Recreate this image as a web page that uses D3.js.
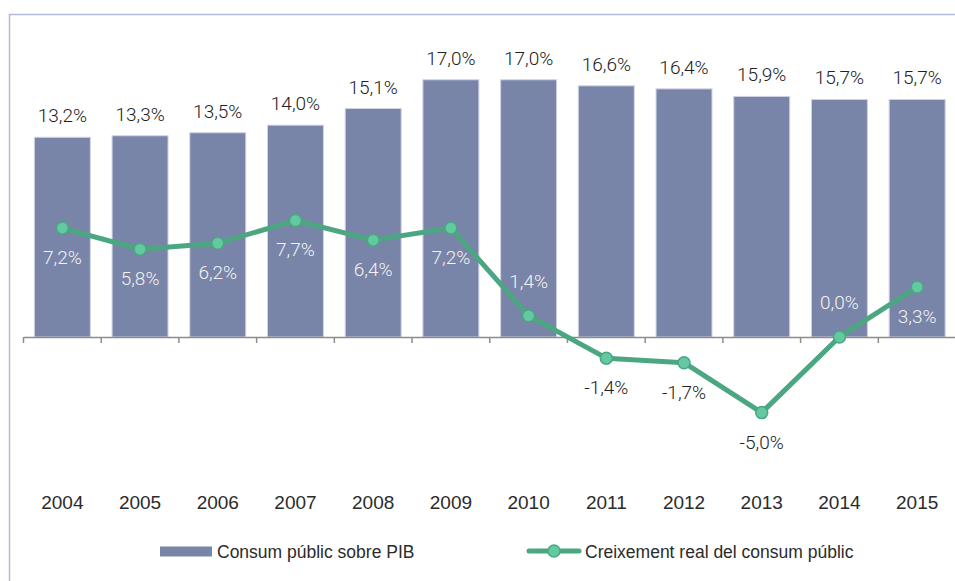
<!DOCTYPE html>
<html>
<head>
<meta charset="utf-8">
<script src="https://cdn.jsdelivr.net/npm/d3@7"></script>
<style>
	body { margin: 0; background: #fff; }
	svg { display: block; }
</style>
</head>
<body>
<div id="chart"></div>
<script>
// chart values
var years = ["2004", "2005", "2006", "2007", "2008", "2009", "2010", "2011", "2012", "2013", "2014", "2015"];
var consumPib = [13.2, 13.3, 13.5, 14.0, 15.1, 17.0, 17.0, 16.6, 16.4, 15.9, 15.7, 15.7];
var creixement = [7.2, 5.8, 6.2, 7.7, 6.4, 7.2, 1.4, -1.4, -1.7, -5.0, 0.0, 3.3];
var seriesNames = ["Consum públic sobre PIB", "Creixement real del consum públic"];

function fmt(v){
	return v.toFixed(1).replace(".", ",") + "%";
}

function drawChart(){

	var width = 955;
	var height = 581;

	var svg = d3.select("#chart")
				.append("svg")
				.attr("width", width)
				.attr("height", height);

	// frame round the chart
	svg.append("rect")
		.attr("x", 9.5)
		.attr("y", 14.5)
		.attr("width", 980)
		.attr("height", 620)
		.attr("fill", "none")
		.attr("stroke", "#b3bbd8")
		.attr("stroke-width", 1.5);

	var x = d3.scaleBand()
			  .domain(years)
			  .range([23.5, 956])
			  .paddingInner(0.28)
			  .paddingOuter(0.14);

	var y = d3.scaleLinear()
			  .domain([-8, 20])
			  .range([458.0, 34.4]);

	var cx = function(d){ return x(d) + x.bandwidth() / 2; };

	// bars
	svg.selectAll(".bar")
		.data(years)
		.enter()
		.append("rect")
		.attr("class", "bar")
		.attr("x", function(d){ return x(d); })
		.attr("y", function(d, i){ return y(consumPib[i]); })
		.attr("width", x.bandwidth())
		.attr("height", function(d, i){ return y(0) - y(consumPib[i]); })
		.attr("fill", "#7985a8")
		.attr("stroke", "#cfd3e3")
		.attr("stroke-width", 1);

	// bar labels
	svg.selectAll(".barLabel")
		.data(years)
		.enter()
		.append("text")
		.attr("class", "barLabel")
		.attr("x", cx)
		.attr("y", function(d, i){ return y(consumPib[i]) - 15; })
		.attr("text-anchor", "middle")
		.attr("font-family", "Roboto")
		.attr("font-weight", 300)
		.attr("font-size", "19px")
		.attr("fill", "#222")
		.text(function(d, i){ return fmt(consumPib[i]); });

	// category axis along zero
	var axis = d3.axisBottom(x).tickSize(0).tickFormat("");
	var gAxis = svg.append("g")
		.attr("transform", "translate(0," + y(0) + ")")
		.call(axis);
	gAxis.select(".domain").attr("stroke", "#8c8c8c").attr("stroke-width", 1.5);

	var edges = years.map(function(d){ return x(d) - x.step() * x.paddingInner() / 2; });
	edges.push(956);
	svg.selectAll(".tick2")
		.data(edges)
		.enter()
		.append("line")
		.attr("x1", function(d){ return d; })
		.attr("x2", function(d){ return d; })
		.attr("y1", y(0))
		.attr("y2", y(0) + 6)
		.attr("stroke", "#8c8c8c")
		.attr("stroke-width", 1.5);

	// year labels
	svg.selectAll(".year")
		.data(years)
		.enter()
		.append("text")
		.attr("class", "year")
		.attr("x", cx)
		.attr("y", 509)
		.attr("text-anchor", "middle")
		.attr("font-family", "Liberation Sans")
		.attr("font-size", "19px")
		.attr("fill", "#2b2b2b")
		.text(function(d){ return d; });

	// growth line
	var line = d3.line()
				 .x(function(d, i){ return cx(years[i]); })
				 .y(function(d){ return y(d); });

	svg.append("path")
		.datum(creixement)
		.attr("d", line)
		.attr("fill", "none")
		.attr("stroke", "#4ba682")
		.attr("stroke-width", 5)
		.attr("stroke-linejoin", "round");

	svg.selectAll(".dot")
		.data(creixement)
		.enter()
		.append("circle")
		.attr("class", "dot")
		.attr("cx", function(d, i){ return cx(years[i]); })
		.attr("cy", function(d){ return y(d); })
		.attr("r", 6)
		.attr("fill", "#63c9a0")
		.attr("stroke", "#4ba682")
		.attr("stroke-width", 1.5);

	// growth labels: below the point, unless that would run into the axis
	var above = function(d){ return d >= 0 && y(d) + 36 > y(0) - 8; };
	svg.selectAll(".lineLabel")
		.data(creixement)
		.enter()
		.append("text")
		.attr("class", "lineLabel")
		.attr("x", function(d, i){ return cx(years[i]); })
		.attr("y", function(d){ return above(d) ? y(d) - 28 : y(d) + 36; })
		.attr("text-anchor", "middle")
		.attr("font-family", "Roboto")
		.attr("font-weight", 300)
		.attr("font-size", "19px")
		.attr("fill", function(d){ return d >= 0 ? "#f2f2f2" : "#222"; })
		.text(function(d){ return fmt(d); });

	// legend
	var legend = svg.append("g");
	legend.append("rect")
		.attr("x", 160)
		.attr("y", 546.5)
		.attr("width", 52)
		.attr("height", 10)
		.attr("fill", "#7985a8");
	legend.append("text")
		.attr("x", 217)
		.attr("y", 558)
		.attr("font-family", "Liberation Sans")
		.attr("font-size", "17.5px")
		.attr("fill", "#2b2b2b")
		.text(seriesNames[0]);

	legend.append("line")
		.attr("x1", 529)
		.attr("x2", 579)
		.attr("y1", 551)
		.attr("y2", 551)
		.attr("stroke", "#4ba682")
		.attr("stroke-width", 5)
		.attr("stroke-linecap", "round");
	legend.append("circle")
		.attr("cx", 554)
		.attr("cy", 551)
		.attr("r", 6)
		.attr("fill", "#63c9a0")
		.attr("stroke", "#4ba682")
		.attr("stroke-width", 1.5);
	legend.append("text")
		.attr("x", 585)
		.attr("y", 558)
		.attr("font-family", "Liberation Sans")
		.attr("font-size", "17.5px")
		.attr("fill", "#2b2b2b")
		.text(seriesNames[1]);
}

drawChart();
</script>
</body>
</html>
